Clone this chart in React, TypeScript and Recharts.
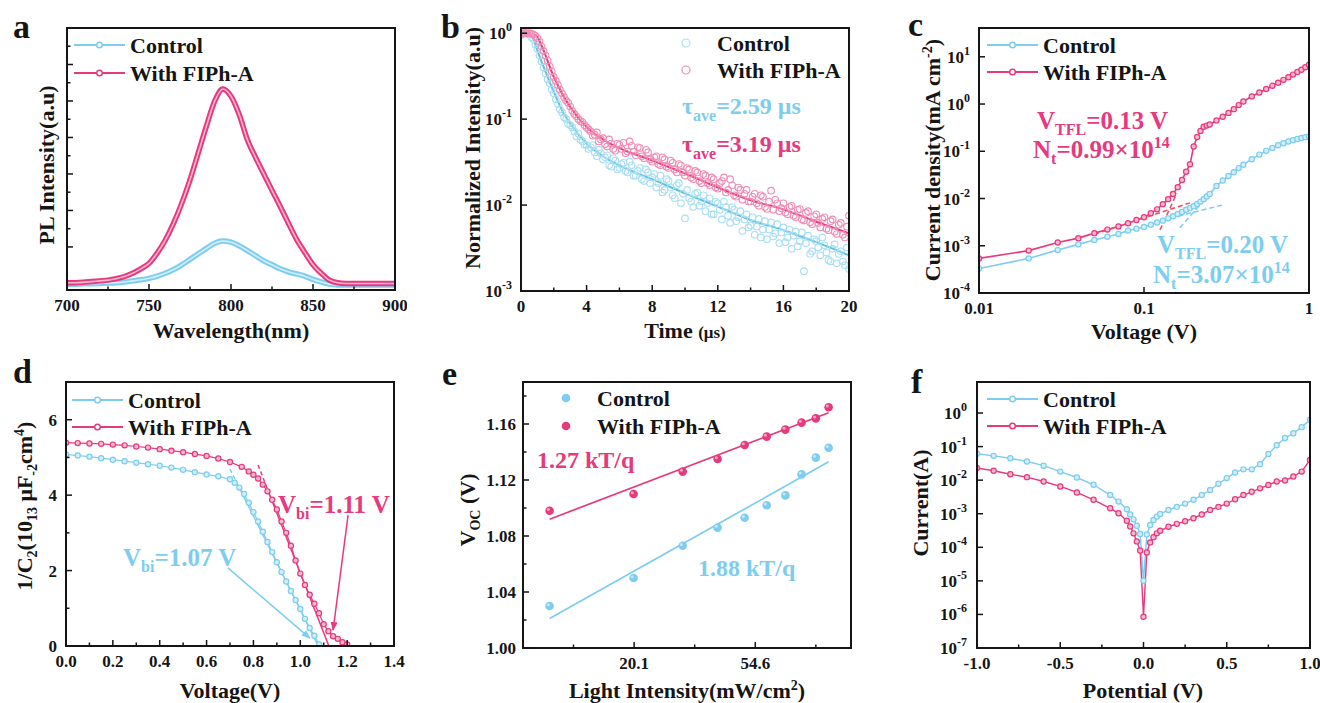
import React from "react";
import { ComposedChart, Line, Scatter, XAxis, YAxis, ReferenceLine } from "recharts";

const FONT = "'Liberation Serif', 'Times New Roman', Times, serif";
const INK = "#151515";
const CYAN = "#7ccdf0";
const CYAN_FIT = "#5cc2dc";
const CYAN_SOFT = "#a8def4";
const CYAN_CORE = "#d2eefa";
const PINK = "#e7397e";
const PINK_SOFT = "#f08db4";
const PINK_CORE = "#f7b8d0";
const RED_DASH = "#ef4f5f";

// ---- a: PL spectra ----
const plWavelength = [700, 705, 710, 715, 720, 725, 730, 735, 740, 745, 750, 755, 760, 765, 770, 775, 780, 785, 790, 795, 800, 805, 810, 815, 820, 825, 830, 835, 840, 845, 850, 855, 860, 865, 870, 875, 880, 885, 890, 895, 900];
const plControl = [-1.02, -1.02, -1.01, -1.01, -1.0, -0.99, -0.98, -0.96, -0.93, -0.9, -0.86, -0.8, -0.72, -0.62, -0.49, -0.34, -0.19, -0.04, 0.1, 0.16, 0.13, 0.03, -0.1, -0.24, -0.38, -0.49, -0.6, -0.68, -0.74, -0.8, -0.89, -0.96, -1.02, -1.04, -1.04, -1.04, -1.04, -1.04, -1.04, -1.04, -1.04];
const plFiph = [-0.98, -0.98, -0.97, -0.95, -0.93, -0.91, -0.87, -0.81, -0.72, -0.6, -0.45, -0.17, 0.19, 0.65, 1.2, 1.84, 2.57, 3.31, 3.99, 4.33, 4.13, 3.63, 2.94, 2.45, 2.0, 1.55, 1.11, 0.65, 0.21, -0.15, -0.49, -0.72, -0.91, -0.98, -1.0, -1.0, -1.0, -1.0, -1.0, -1.0, -1.0];
const plXTicks = [700, 725, 750, 775, 800, 825, 850, 875, 900];
const plYTicks = [0, 0.5, 1, 1.5, 2, 2.5, 3, 3.5, 4, 4.5, 5, 5.5, 6];

// ---- b: TRPL decay ----
const decayTime = [
  0, 0.25, 0.5, 0.75, 1, 1.25, 1.5, 1.75, 2, 2.25, 2.5, 2.75, 3, 3.25, 3.5, 3.75,
  4, 4.25, 4.5, 4.75, 5, 5.25, 5.5, 5.75, 6, 6.25, 6.5, 6.75, 7, 7.25, 7.5, 7.75,
  8, 8.25, 8.5, 8.75, 9, 9.25, 9.5, 9.75, 10, 10.25, 10.5, 10.75, 11, 11.25, 11.5, 11.75,
  12, 12.25, 12.5, 12.75, 13, 13.25, 13.5, 13.75, 14, 14.25, 14.5, 14.75, 15, 15.25, 15.5, 15.75,
  16, 16.25, 16.5, 16.75, 17, 17.25, 17.5, 17.75, 18, 18.25, 18.5, 18.75, 19, 19.25, 19.5, 19.75, 20,
];
const decayControl = [
  0.95, 1.0, 0.97, 0.85, 0.66, 0.47, 0.34, 0.26,
  0.2, 0.15, 0.12, 0.1, 0.085, 0.072, 0.068, 0.055,
  0.05, 0.047, 0.041, 0.044, 0.034, 0.038, 0.028, 0.033,
  0.027, 0.031, 0.024, 0.029, 0.022, 0.027, 0.019, 0.024,
  0.021, 0.016, 0.022, 0.015, 0.019, 0.013, 0.017, 0.0105,
  0.007, 0.012, 0.0095, 0.014, 0.011, 0.0085, 0.012, 0.0078,
  0.0105, 0.0068, 0.0095, 0.0062, 0.0088, 0.0072, 0.005, 0.0078,
  0.0058, 0.0045, 0.0069, 0.0052, 0.004, 0.0063, 0.0047, 0.0036,
  0.0055, 0.0042, 0.0031, 0.0049, 0.0038, 0.0017, 0.0044, 0.0029,
  0.0038, 0.0026, 0.0034, 0.0023, 0.0031, 0.0021, 0.0029, 0.002,
  0.0018,
];
const decayFiph = [
  0.98, 1.0, 1.0, 0.97, 0.88, 0.7, 0.55, 0.41,
  0.31, 0.25, 0.2, 0.165, 0.14, 0.115, 0.1, 0.092,
  0.08, 0.072, 0.066, 0.055, 0.06, 0.048, 0.052, 0.043,
  0.05, 0.053, 0.042, 0.049, 0.038, 0.046, 0.035, 0.041,
  0.032, 0.037, 0.029, 0.034, 0.027, 0.031, 0.024, 0.029,
  0.022, 0.026, 0.02, 0.024, 0.018, 0.022, 0.017, 0.02,
  0.0155, 0.019, 0.014, 0.02, 0.013, 0.016, 0.0115, 0.015,
  0.011, 0.0135, 0.0098, 0.0125, 0.009, 0.0147, 0.0115, 0.0085,
  0.0105, 0.0078, 0.0098, 0.0072, 0.009, 0.0066, 0.0085, 0.006,
  0.0078, 0.0055, 0.0072, 0.0051, 0.0068, 0.0046, 0.0062, 0.0042,
  0.0075,
];
const decayTimeMid = [
  0.125, 0.375, 0.625, 0.875, 1.125, 1.375, 1.625, 1.875, 2.125, 2.375, 2.625, 2.875, 3.125, 3.375, 3.625, 3.875,
  4.125, 4.375, 4.625, 4.875, 5.125, 5.375, 5.625, 5.875, 6.125, 6.375, 6.625, 6.875, 7.125, 7.375, 7.625, 7.875,
  8.125, 8.375, 8.625, 8.875, 9.125, 9.375, 9.625, 9.875, 10.125, 10.375, 10.625, 10.875, 11.125, 11.375, 11.625, 11.875,
  12.125, 12.375, 12.625, 12.875, 13.125, 13.375, 13.625, 13.875, 14.125, 14.375, 14.625, 14.875, 15.125, 15.375, 15.625, 15.875,
  16.125, 16.375, 16.625, 16.875, 17.125, 17.375, 17.625, 17.875, 18.125, 18.375, 18.625, 18.875, 19.125, 19.375, 19.625, 19.875,
];
const decayControlMid = [
  0.98, 0.99, 0.9, 0.74, 0.55, 0.4, 0.29, 0.22,
  0.17, 0.13, 0.105, 0.088, 0.08, 0.063, 0.058, 0.05,
  0.045, 0.05, 0.037, 0.04, 0.036, 0.029, 0.035, 0.026,
  0.03, 0.025, 0.032, 0.022, 0.025, 0.02, 0.026, 0.018,
  0.023, 0.018, 0.014, 0.02, 0.016, 0.012, 0.018, 0.0135,
  0.015, 0.011, 0.0135, 0.0098, 0.013, 0.0105, 0.0078, 0.011,
  0.0088, 0.011, 0.0075, 0.0095, 0.0065, 0.0085, 0.0068, 0.0055,
  0.0072, 0.0056, 0.0042, 0.0065, 0.0052, 0.0043, 0.006, 0.0048,
  0.0037, 0.0052, 0.0044, 0.0033, 0.0048, 0.0036, 0.0027, 0.004,
  0.0032, 0.0042, 0.0028, 0.0022, 0.0035, 0.0027, 0.0022, 0.0032,
];
const decayFiphMid = [
  1.0, 0.99, 0.99, 0.93, 0.8, 0.62, 0.48, 0.36,
  0.28, 0.22, 0.18, 0.155, 0.125, 0.108, 0.095, 0.085,
  0.076, 0.064, 0.07, 0.058, 0.051, 0.058, 0.045, 0.052,
  0.045, 0.04, 0.055, 0.042, 0.047, 0.037, 0.044, 0.034,
  0.036, 0.03, 0.036, 0.028, 0.033, 0.026, 0.03, 0.024,
  0.027, 0.021, 0.025, 0.019, 0.023, 0.018, 0.021, 0.016,
  0.018, 0.021, 0.015, 0.017, 0.0125, 0.015, 0.0135, 0.011,
  0.0125, 0.0105, 0.013, 0.0095, 0.011, 0.0088, 0.0105, 0.0092,
  0.0082, 0.0095, 0.0075, 0.0088, 0.0068, 0.0081, 0.0063, 0.0074,
  0.0062, 0.0069, 0.0053, 0.0065, 0.0049, 0.0059, 0.0045, 0.0056,
];
const fitTime = [0, 0.5, 0.75, 1, 1.25, 1.5, 2, 2.5, 3, 4, 5, 6, 8, 10, 12, 14, 16, 18, 20];
const fitControl = [1.0, 0.98, 0.85, 0.63, 0.47, 0.355, 0.208, 0.127, 0.089, 0.052, 0.037, 0.029, 0.02, 0.0137, 0.0096, 0.0067, 0.0051, 0.0037, 0.0026];
const fitFiph = [1.0, 1.0, 0.97, 0.9, 0.72, 0.55, 0.31, 0.2, 0.139, 0.081, 0.058, 0.046, 0.033, 0.0233, 0.016, 0.0114, 0.0089, 0.0064, 0.0047];
const decayXTicks = [0, 2, 4, 6, 8, 10, 12, 14, 16, 18, 20];
const decayYTicks = [0.001, 0.01, 0.1, 1];

// ---- c: SCLC ----
const jvVoltage = [
  0.01, 0.02, 0.03, 0.04, 0.05, 0.06, 0.07, 0.08, 0.09, 0.1, 0.11, 0.12, 0.13, 0.14, 0.15, 0.16, 0.17, 0.18, 0.19, 0.2, 0.21, 0.22, 0.23, 0.24, 0.25,
  0.275, 0.3, 0.325, 0.35, 0.375, 0.4, 0.45, 0.5, 0.55, 0.6, 0.65, 0.7, 0.75, 0.8, 0.85, 0.9, 0.95, 1.0,
];
const jvControl = [
  3.3e-4, 5.4e-4, 8.1e-4, 1.07e-3, 1.33e-3, 1.55e-3, 1.78e-3, 2.1e-3, 2.3e-3, 2.5e-3, 2.8e-3, 3.1e-3, 3.4e-3, 3.8e-3, 4.2e-3, 4.7e-3, 5.2e-3, 5.8e-3, 6.3e-3, 6.9e-3, 7.7e-3, 8.6e-3, 9.7e-3, 0.011, 0.0125,
  0.0185, 0.024, 0.03, 0.036, 0.044, 0.052, 0.068, 0.085, 0.102, 0.118, 0.134, 0.148, 0.161, 0.172, 0.182, 0.191, 0.199, 0.207,
];
const jvFiph = [
  5.4e-4, 7.9e-4, 1.17e-3, 1.45e-3, 1.85e-3, 2.2e-3, 2.55e-3, 3.0e-3, 3.5e-3, 4.0e-3, 4.9e-3, 5.9e-3, 7.6e-3, 9.7e-3, 0.0125, 0.0174, 0.0248, 0.037, 0.053, 0.126, 0.2, 0.27, 0.33, 0.35, 0.37,
  0.45, 0.54, 0.65, 0.78, 0.95, 1.13, 1.45, 1.75, 2.08, 2.43, 2.82, 3.25, 3.7, 4.2, 4.75, 5.3, 6.0, 6.8,
];
const tflFiphLowV = [0.05, 0.19];
const tflFiphLowJ = [1.75e-3, 8.1e-3];
const tflFiphHighV = [0.125, 0.158];
const tflFiphHighJ = [2.16e-3, 0.0129];
const tflControlLowV = [0.13, 0.3];
const tflControlLowJ = [3.5e-3, 7.3e-3];
const tflControlHighV = [0.165, 0.241];
const tflControlHighJ = [2.4e-3, 0.0108];
const jvXTicks = [0.01, 0.1, 1];
const jvYTicks = [1e-4, 1e-3, 1e-2, 1e-1, 1, 10];

// ---- d: Mott-Schottky ----
const cvVoltageControl = [0, 0.05, 0.1, 0.15, 0.2, 0.25, 0.3, 0.35, 0.4, 0.45, 0.5, 0.55, 0.6, 0.65, 0.7, 0.72, 0.74, 0.76, 0.78, 0.8, 0.82, 0.84, 0.86, 0.88, 0.9, 0.92, 0.94, 0.96, 0.98, 1.0, 1.02, 1.04, 1.06, 1.08];
const cvControl = [5.08, 5.05, 5.02, 4.98, 4.94, 4.9, 4.86, 4.82, 4.78, 4.73, 4.67, 4.61, 4.55, 4.5, 4.42, 4.33, 4.2, 4.03, 3.8, 3.55, 3.3, 3.03, 2.76, 2.49, 2.22, 1.96, 1.71, 1.46, 1.22, 0.98, 0.72, 0.48, 0.27, 0.04];
const cvVoltageFiph = [0, 0.05, 0.1, 0.15, 0.2, 0.25, 0.3, 0.35, 0.4, 0.45, 0.5, 0.55, 0.6, 0.65, 0.7, 0.75, 0.78, 0.8, 0.82, 0.84, 0.86, 0.88, 0.9, 0.92, 0.94, 0.96, 0.98, 1.0, 1.02, 1.04, 1.06, 1.08, 1.1, 1.12, 1.14, 1.16, 1.18, 1.2];
const cvFiph = [5.39, 5.38, 5.37, 5.36, 5.34, 5.32, 5.29, 5.26, 5.22, 5.18, 5.14, 5.09, 5.04, 4.97, 4.88, 4.75, 4.63, 4.54, 4.44, 4.28, 4.1, 3.88, 3.62, 3.3, 3.0, 2.66, 2.27, 1.92, 1.62, 1.36, 1.12, 0.87, 0.58, 0.39, 0.26, 0.19, 0.1, 0.04];
const mottControlDashV = [0.7, 0.745];
const mottControlDashY = [4.69, 4.13];
const mottControlFitV = [0.745, 1.077];
const mottControlFitY = [4.13, 0];
const mottFiphDashV = [0.82, 0.87];
const mottFiphDashY = [4.8, 4.0];
const mottFiphFitV = [0.87, 1.122];
const mottFiphFitY = [4.0, 0];
const cvXTicks = [0, 0.1, 0.2, 0.3, 0.4, 0.5, 0.6, 0.7, 0.8, 0.9, 1.0, 1.1, 1.2, 1.3, 1.4];
const cvYTicks = [0, 1, 2, 3, 4, 5, 6];

// ---- e: Voc vs light intensity ----
const lightIntensity = [10, 20, 30, 40, 50, 60, 70, 80, 90, 100];
const vocControl = [1.03, 1.05, 1.073, 1.086, 1.093, 1.102, 1.109, 1.124, 1.136, 1.143];
const vocFiph = [1.098, 1.11, 1.126, 1.135, 1.145, 1.151, 1.156, 1.161, 1.164, 1.172];
const vocFitIntensity = [10, 100];
const vocFitControl = [1.021, 1.133];
const vocFitFiph = [1.092, 1.168];
const lightMajorTicks = [20.09, 54.6];
const lightTicks = [12.18, 20.09, 33.12, 54.6, 90.02];
const vocYTicks = [1.0, 1.02, 1.04, 1.06, 1.08, 1.1, 1.12, 1.14, 1.16, 1.18];

// ---- f: dark I-V ----
const ivVoltage = [-1, -0.9, -0.8, -0.7, -0.6, -0.5, -0.4, -0.3, -0.2, -0.15, -0.1, -0.08, -0.06, -0.04, -0.02, 0, 0.02, 0.04, 0.06, 0.08, 0.1, 0.15, 0.2, 0.25, 0.3, 0.35, 0.4, 0.45, 0.5, 0.55, 0.6, 0.65, 0.7, 0.75, 0.8, 0.85, 0.9, 0.95, 1.0];
const ivControl = [0.061, 0.053, 0.045, 0.036, 0.027, 0.018, 0.012, 0.0073, 0.0036, 0.0023, 0.00136, 0.00095, 0.00068, 0.00044, 0.00025, 1.0e-5, 0.00024, 0.00046, 0.00065, 0.00082, 0.00098, 0.0013, 0.0016, 0.002, 0.0026, 0.0036, 0.0051, 0.0078, 0.0115, 0.017, 0.021, 0.021, 0.03, 0.06, 0.11, 0.18, 0.25, 0.38, 0.63];
const ivFiph = [0.023, 0.019, 0.015, 0.0123, 0.0091, 0.0065, 0.0043, 0.0026, 0.00145, 0.00103, 0.00062, 0.00042, 0.00026, 0.00015, 0.00008, 8.5e-7, 0.00007, 0.00014, 0.0002, 0.00026, 0.00031, 0.00041, 0.0005, 0.0006, 0.00073, 0.00095, 0.0013, 0.0016, 0.002, 0.0027, 0.0036, 0.0045, 0.0057, 0.0072, 0.0091, 0.0098, 0.0128, 0.018, 0.04];
const ivXTicks = [-1, -0.75, -0.5, -0.25, 0, 0.25, 0.5, 0.75, 1];
const ivYTicks = [1e-7, 1e-6, 1e-5, 1e-4, 1e-3, 1e-2, 1e-1, 1];

// ---- layout ----
type Rect = { l: number; t: number; r: number; b: number };
const RECT_A: Rect = { l: 67, t: 28, r: 395, b: 290 };
const RECT_B: Rect = { l: 521, t: 28, r: 849, b: 291 };
const RECT_C: Rect = { l: 979, t: 28, r: 1309, b: 293 };
const RECT_D: Rect = { l: 66, t: 382, r: 394, b: 646 };
const RECT_E: Rect = { l: 523, t: 382, r: 851, b: 648 };
const RECT_F: Rect = { l: 977, t: 382, r: 1310, b: 648 };
const PAD_L = 70, PAD_T = 10, PAD_R = 12, PAD_B = 45;

const pairs = (xs: number[], ys: number[]) => xs.map((x, i) => ({ x, y: ys[i] }));

const tickText = { fontFamily: FONT, fontWeight: 700, fontSize: 17, fill: INK };

function pow10(v: number) {
  const e = Math.round(Math.log10(v));
  return [
    <tspan key="m">10</tspan>,
    <tspan key="e" dy={-8} fontSize={12}>{e}</tspan>,
  ];
}

function bottomTick(r: Rect, isMajor: (v: number) => boolean, fmt: (v: number) => React.ReactNode) {
  const y0 = PAD_T + (r.b - r.t);
  return (p: any) => {
    const v = p.payload.value;
    const major = isMajor(v);
    return (
      <g>
        <line x1={p.x} x2={p.x} y1={y0} y2={y0 - (major ? 6 : 3.5)} stroke={INK} strokeWidth={1.5} />
        {major ? (
          <text x={p.x} y={y0 + 21} textAnchor="middle" {...tickText}>{fmt(v)}</text>
        ) : null}
      </g>
    );
  };
}

function leftTick(isMajor: (v: number) => boolean, fmt: ((v: number) => React.ReactNode) | null, gap = 9) {
  const x0 = PAD_L;
  return (p: any) => {
    const v = p.payload.value;
    const major = isMajor(v);
    return (
      <g>
        <line x1={x0} x2={x0 + (major ? 6 : 3.5)} y1={p.y} y2={p.y} stroke={INK} strokeWidth={1.5} />
        {major && fmt ? (
          <text x={x0 - gap} y={p.y + 6} textAnchor="end" {...tickText}>{fmt(v)}</text>
        ) : null}
      </g>
    );
  };
}

const axisBase = {
  type: "number" as const,
  tickLine: false,
  axisLine: false,
  interval: 0 as const,
  allowDataOverflow: true,
};

function Panel({ r, children }: { r: Rect; children: React.ReactNode }) {
  return (
    <div style={{ position: "absolute", left: r.l - PAD_L, top: r.t - PAD_T }}>
      <ComposedChart
        width={PAD_L + r.r - r.l + PAD_R}
        height={PAD_T + r.b - r.t + PAD_B}
        margin={{ top: PAD_T, right: PAD_R, bottom: 0, left: 0 }}
      >
        {children}
      </ComposedChart>
    </div>
  );
}

const hollow = (color: string) => (p: any) => (
  <circle cx={p.cx} cy={p.cy} r={3.3} fill="none" stroke={color} strokeWidth={1.1} />
);
const bead = (color: string) => (p: any) => (
  <g>
    <circle cx={p.cx} cy={p.cy} r={4.3} fill={color} />
    <circle cx={p.cx - 1.3} cy={p.cy - 1.3} r={1.5} fill="#fff" opacity={0.55} />
  </g>
);
const dotStyle = (stroke: string, fill: string) => ({ r: 2.6, fill, stroke, strokeWidth: 1.2 });

function PanelA() {
  const control = pairs(plWavelength, plControl);
  const fiph = pairs(plWavelength, plFiph);
  return (
    <Panel r={RECT_A}>
      <XAxis {...axisBase} dataKey="x" height={PAD_B} domain={[700, 900]} ticks={plXTicks}
        tick={bottomTick(RECT_A, (v) => v % 50 === 0, (v) => v)} />
      <YAxis {...axisBase} dataKey="y" width={PAD_L} domain={[-1.18, 6]} ticks={plYTicks}
        tick={leftTick((v) => Number.isInteger(v), null)} />
      <Line data={control} dataKey="y" type="monotone" stroke={CYAN} strokeWidth={5.5} dot={false} isAnimationActive={false} />
      <Line data={control} dataKey="y" type="monotone" stroke={CYAN_CORE} strokeWidth={1.6} dot={false} isAnimationActive={false} />
      <Line data={fiph} dataKey="y" type="monotone" stroke={PINK} strokeWidth={5.5} dot={false} isAnimationActive={false} />
      <Line data={fiph} dataKey="y" type="monotone" stroke={PINK_CORE} strokeWidth={1.6} dot={false} isAnimationActive={false} />
    </Panel>
  );
}

function PanelB() {
  return (
    <Panel r={RECT_B}>
      <XAxis {...axisBase} dataKey="x" height={PAD_B} domain={[0, 20]} ticks={decayXTicks}
        tick={bottomTick(RECT_B, (v) => v % 4 === 0, (v) => v)} />
      <YAxis {...axisBase} dataKey="y" width={PAD_L} scale="log" domain={[0.001, 1.15]} ticks={decayYTicks}
        tick={leftTick(() => true, pow10)} />
      <Scatter data={pairs(decayTime, decayControl)} shape={hollow(CYAN_SOFT)} isAnimationActive={false} />
      <Scatter data={pairs(decayTimeMid, decayControlMid)} shape={hollow(CYAN_SOFT)} isAnimationActive={false} />
      <Scatter data={pairs(decayTime, decayFiph)} shape={hollow(PINK_SOFT)} isAnimationActive={false} />
      <Scatter data={pairs(decayTimeMid, decayFiphMid)} shape={hollow(PINK_SOFT)} isAnimationActive={false} />
      <Line data={pairs(fitTime, fitControl)} dataKey="y" type="monotone" stroke={CYAN_FIT} strokeWidth={2} dot={false} isAnimationActive={false} />
      <Line data={pairs(fitTime, fitFiph)} dataKey="y" type="monotone" stroke={PINK} strokeWidth={2} dot={false} isAnimationActive={false} />
    </Panel>
  );
}

function PanelC() {
  return (
    <Panel r={RECT_C}>
      <XAxis {...axisBase} dataKey="x" height={PAD_B} scale="log" domain={[0.01, 1]} ticks={jvXTicks}
        tick={bottomTick(RECT_C, () => true, (v) => String(v))} />
      <YAxis {...axisBase} dataKey="y" width={PAD_L} scale="log" domain={[1e-4, 40.7]} ticks={jvYTicks}
        tick={leftTick(() => true, pow10)} />
      <Line data={pairs(jvVoltage, jvControl)} dataKey="y" type="linear" stroke={CYAN} strokeWidth={1.6}
        dot={dotStyle(CYAN, CYAN_CORE)} isAnimationActive={false} />
      <Line data={pairs(jvVoltage, jvFiph)} dataKey="y" type="linear" stroke={PINK} strokeWidth={1.6}
        dot={dotStyle(PINK, PINK_CORE)} isAnimationActive={false} />
      <Line data={pairs(tflFiphLowV, tflFiphLowJ)} dataKey="y" stroke={RED_DASH} strokeWidth={1.5} strokeDasharray="5 3" dot={false} isAnimationActive={false} />
      <Line data={pairs(tflFiphHighV, tflFiphHighJ)} dataKey="y" stroke={RED_DASH} strokeWidth={1.5} strokeDasharray="5 3" dot={false} isAnimationActive={false} />
      <Line data={pairs(tflControlLowV, tflControlLowJ)} dataKey="y" stroke={CYAN} strokeWidth={1.5} strokeDasharray="5 3" dot={false} isAnimationActive={false} />
      <Line data={pairs(tflControlHighV, tflControlHighJ)} dataKey="y" stroke={CYAN} strokeWidth={1.5} strokeDasharray="5 3" dot={false} isAnimationActive={false} />
    </Panel>
  );
}

function PanelD() {
  return (
    <Panel r={RECT_D}>
      <defs>
        <marker id="arrowCyan" viewBox="0 0 10 10" refX="9" refY="5" markerWidth="9" markerHeight="9" markerUnits="userSpaceOnUse" orient="auto">
          <path d="M0,1 L10,5 L0,9 z" fill={CYAN} />
        </marker>
        <marker id="arrowPink" viewBox="0 0 10 10" refX="9" refY="5" markerWidth="9" markerHeight="9" markerUnits="userSpaceOnUse" orient="auto">
          <path d="M0,1 L10,5 L0,9 z" fill={PINK} />
        </marker>
      </defs>
      <XAxis {...axisBase} dataKey="x" height={PAD_B} domain={[0, 1.4]} ticks={cvXTicks}
        tick={bottomTick(RECT_D, (v) => Math.round(v * 10) % 2 === 0, (v) => v.toFixed(1))} />
      <YAxis {...axisBase} dataKey="y" width={PAD_L} domain={[0, 7]} ticks={cvYTicks}
        tick={leftTick((v) => v % 2 === 0, (v) => v)} />
      <Line data={pairs(cvVoltageControl, cvControl)} dataKey="y" type="linear" stroke={CYAN} strokeWidth={1.2}
        dot={dotStyle(CYAN, CYAN_CORE)} isAnimationActive={false} />
      <Line data={pairs(cvVoltageFiph, cvFiph)} dataKey="y" type="linear" stroke={PINK} strokeWidth={1.2}
        dot={dotStyle(PINK, PINK_CORE)} isAnimationActive={false} />
      <Line data={pairs(mottControlDashV, mottControlDashY)} dataKey="y" stroke={CYAN} strokeWidth={1.5} strokeDasharray="4 3" dot={false} isAnimationActive={false} />
      <Line data={pairs(mottControlFitV, mottControlFitY)} dataKey="y" stroke={CYAN} strokeWidth={1.5} dot={false} isAnimationActive={false} />
      <Line data={pairs(mottFiphDashV, mottFiphDashY)} dataKey="y" stroke={PINK} strokeWidth={1.5} strokeDasharray="4 3" dot={false} isAnimationActive={false} />
      <Line data={pairs(mottFiphFitV, mottFiphFitY)} dataKey="y" stroke={PINK} strokeWidth={1.5} dot={false} isAnimationActive={false} />
      <ReferenceLine segment={[{ x: 0.691, y: 2.07 }, { x: 1.041, y: 0.21 }]} stroke={CYAN} strokeWidth={1.5}
        markerEnd="url(#arrowCyan)" ifOverflow="visible" />
      <ReferenceLine segment={[{ x: 1.204, y: 3.47 }, { x: 1.14, y: 0.42 }]} stroke={PINK} strokeWidth={1.5}
        markerEnd="url(#arrowPink)" ifOverflow="visible" />
    </Panel>
  );
}

function PanelE() {
  return (
    <Panel r={RECT_E}>
      <XAxis {...axisBase} dataKey="x" height={PAD_B} scale="log" domain={[8.03, 120.3]} ticks={lightTicks}
        tick={bottomTick(RECT_E, (v) => lightMajorTicks.includes(v), (v) => v.toFixed(1))} />
      <YAxis {...axisBase} dataKey="y" width={PAD_L} domain={[1.0, 1.19]} ticks={vocYTicks}
        tick={leftTick((v) => Math.round(v * 100) % 4 === 0, (v) => v.toFixed(2), 7)} />
      <Scatter data={pairs(lightIntensity, vocControl)} shape={bead(CYAN)} isAnimationActive={false} />
      <Scatter data={pairs(lightIntensity, vocFiph)} shape={bead(PINK)} isAnimationActive={false} />
      <Line data={pairs(vocFitIntensity, vocFitControl)} dataKey="y" stroke={CYAN} strokeWidth={1.7} dot={false} isAnimationActive={false} />
      <Line data={pairs(vocFitIntensity, vocFitFiph)} dataKey="y" stroke={PINK} strokeWidth={1.7} dot={false} isAnimationActive={false} />
    </Panel>
  );
}

function PanelF() {
  return (
    <Panel r={RECT_F}>
      <XAxis {...axisBase} dataKey="x" height={PAD_B} domain={[-1, 1]} ticks={ivXTicks}
        tick={bottomTick(RECT_F, (v) => Number.isInteger(v * 2), (v) => v.toFixed(1))} />
      <YAxis {...axisBase} dataKey="y" width={PAD_L} scale="log" domain={[1e-7, 8.4]} ticks={ivYTicks}
        tick={leftTick(() => true, pow10, 10)} />
      <Line data={pairs(ivVoltage, ivControl)} dataKey="y" type="linear" stroke={CYAN} strokeWidth={1.4}
        dot={dotStyle(CYAN, CYAN_CORE)} isAnimationActive={false} />
      <Line data={pairs(ivVoltage, ivFiph)} dataKey="y" type="linear" stroke={PINK} strokeWidth={1.4}
        dot={dotStyle(PINK, PINK_CORE)} isAnimationActive={false} />
    </Panel>
  );
}

function LegendRow({ x, y, color, label, kind }: { x: number; y: number; color: string; label: string; kind: "line" | "circle" | "dot" }) {
  if (kind === "line") {
    return (
      <g>
        <line x1={x} x2={x + 51} y1={y} y2={y} stroke={color} strokeWidth={2} />
        <circle cx={x + 25.5} cy={y} r={2.8} fill="#fff" stroke={color} strokeWidth={1.5} />
        <text x={x + 56} y={y + 7.5} fontSize={22} fill={INK}>{label}</text>
      </g>
    );
  }
  return (
    <g>
      {kind === "circle" ? (
        <circle cx={x} cy={y} r={4} fill="none" stroke={color} strokeWidth={1.2} />
      ) : (
        <circle cx={x} cy={y} r={4.3} fill={color} />
      )}
      <text x={x + 31} y={y + 7.5} fontSize={22} fill={INK}>{label}</text>
    </g>
  );
}

function YTitle({ x, y, children }: { x: number; y: number; children: React.ReactNode }) {
  return (
    <text x={x} y={y} textAnchor="middle" fontSize={22} fill={INK} transform={`rotate(-90 ${x} ${y})`}>
      {children}
    </text>
  );
}

function Overlay() {
  const frames = [RECT_A, RECT_B, RECT_C, RECT_D, RECT_E, RECT_F];
  return (
    <svg width={1320} height={703} style={{ position: "absolute", left: 0, top: 0, pointerEvents: "none" }}
      fontFamily={FONT} fontWeight="bold">
      {frames.map((r, i) => (
        <rect key={i} x={r.l} y={r.t} width={r.r - r.l} height={r.b - r.t} fill="none" stroke={INK} strokeWidth={2} />
      ))}

      {/* panel letters */}
      <text x={13} y={38} fontSize={34} fill={INK}>a</text>
      <text x={441} y={38} fontSize={34} fill={INK}>b</text>
      <text x={908} y={36} fontSize={34} fill={INK}>c</text>
      <text x={13} y={383} fontSize={34} fill={INK}>d</text>
      <text x={442} y={385} fontSize={34} fill={INK}>e</text>
      <text x={911} y={393} fontSize={34} fill={INK}>f</text>

      {/* axis titles */}
      <text x={231} y={338} textAnchor="middle" fontSize={22} fill={INK}>Wavelength(nm)</text>
      <text x={685} y={338} textAnchor="middle" fontSize={22} fill={INK}>Time <tspan fontSize={17}>(μs)</tspan></text>
      <text x={1144} y={339} textAnchor="middle" fontSize={22} fill={INK}>Voltage (V)</text>
      <text x={230} y={698} textAnchor="middle" fontSize={22} fill={INK}>Voltage(V)</text>
      <text x={687} y={698} textAnchor="middle" fontSize={22} fill={INK}>
        Light Intensity(mW/cm<tspan dy={-8} fontSize={14}>2</tspan><tspan dy={8}>)</tspan>
      </text>
      <text x={1143} y={698} textAnchor="middle" fontSize={22} fill={INK}>Potential (V)</text>

      <YTitle x={54} y={165}>PL Intensity(a.u)</YTitle>
      <YTitle x={480} y={148}>Normalized Intensity(a.u)</YTitle>
      <YTitle x={940} y={160}>
        Current density(mA cm<tspan dy={-8} fontSize={14}>-2</tspan><tspan dy={8}>)</tspan>
      </YTitle>
      <YTitle x={32} y={506}>
        1/C<tspan dy={5} fontSize={14}>2</tspan><tspan dy={-5}>(10</tspan><tspan dy={5} fontSize={14}>13</tspan>
        <tspan dy={-5}> μF</tspan><tspan dy={5} fontSize={14}>-2</tspan><tspan dy={-5}>cm</tspan>
        <tspan dy={-8} fontSize={14}>4</tspan><tspan dy={8}>)</tspan>
      </YTitle>
      <YTitle x={475} y={510}>
        V<tspan dy={5} fontSize={14}>OC</tspan><tspan dy={-5}> (V)</tspan>
      </YTitle>
      <YTitle x={928} y={503}>Current(A)</YTitle>

      {/* legends */}
      <LegendRow x={74} y={45} color={CYAN} label="Control" kind="line" />
      <LegendRow x={74} y={73} color={PINK} label="With FIPh-A" kind="line" />
      <LegendRow x={686} y={43} color={CYAN_SOFT} label="Control" kind="circle" />
      <LegendRow x={686} y={70} color={PINK_SOFT} label="With FIPh-A" kind="circle" />
      <LegendRow x={987} y={45} color={CYAN} label="Control" kind="line" />
      <LegendRow x={987} y={72} color={PINK} label="With FIPh-A" kind="line" />
      <LegendRow x={72} y={400} color={CYAN} label="Control" kind="line" />
      <LegendRow x={72} y={427} color={PINK} label="With FIPh-A" kind="line" />
      <LegendRow x={566} y={398} color={CYAN} label="Control" kind="dot" />
      <LegendRow x={566} y={426} color={PINK} label="With FIPh-A" kind="dot" />
      <LegendRow x={987} y={399} color={CYAN} label="Control" kind="line" />
      <LegendRow x={987} y={426} color={PINK} label="With FIPh-A" kind="line" />

      {/* annotations */}
      <text x={682} y={114} fontSize={24} fill={CYAN}>
        τ<tspan dy={7} fontSize={16}>ave</tspan><tspan dy={-7}>=2.59 μs</tspan>
      </text>
      <text x={682} y={152} fontSize={24} fill={PINK}>
        τ<tspan dy={7} fontSize={16}>ave</tspan><tspan dy={-7}>=3.19 μs</tspan>
      </text>

      <text x={1037} y={129} fontSize={25} fill={PINK}>
        V<tspan dy={6} fontSize={16}>TFL</tspan><tspan dy={-6}>=0.13 V</tspan>
      </text>
      <text x={1033} y={158} fontSize={25} fill={PINK}>
        N<tspan dy={6} fontSize={16}>t</tspan><tspan dy={-6}>=0.99×10</tspan><tspan dy={-10} fontSize={16}>14</tspan>
      </text>
      <text x={1157} y={253} fontSize={25} fill={CYAN}>
        V<tspan dy={6} fontSize={16}>TFL</tspan><tspan dy={-6}>=0.20 V</tspan>
      </text>
      <text x={1153} y={283} fontSize={25} fill={CYAN}>
        N<tspan dy={6} fontSize={16}>t</tspan><tspan dy={-6}>=3.07×10</tspan><tspan dy={-10} fontSize={16}>14</tspan>
      </text>

      <text x={278} y={513} fontSize={25} fill={PINK}>
        V<tspan dy={6} fontSize={16}>bi</tspan><tspan dy={-6}>=1.11 V</tspan>
      </text>
      <text x={123} y={566} fontSize={25} fill={CYAN}>
        V<tspan dy={6} fontSize={16}>bi</tspan><tspan dy={-6}>=1.07 V</tspan>
      </text>

      <text x={537} y={468} fontSize={24} fill={PINK}>1.27 kT/q</text>
      <text x={698} y={576} fontSize={24} fill={CYAN}>1.88 kT/q</text>
    </svg>
  );
}

export default function App() {
  return (
    <div style={{ position: "absolute", left: 0, top: 0, width: 1320, height: 703, background: "#fff", overflow: "hidden", fontFamily: FONT }}>
      <PanelA />
      <PanelB />
      <PanelC />
      <PanelD />
      <PanelE />
      <PanelF />
      <Overlay />
    </div>
  );
}
